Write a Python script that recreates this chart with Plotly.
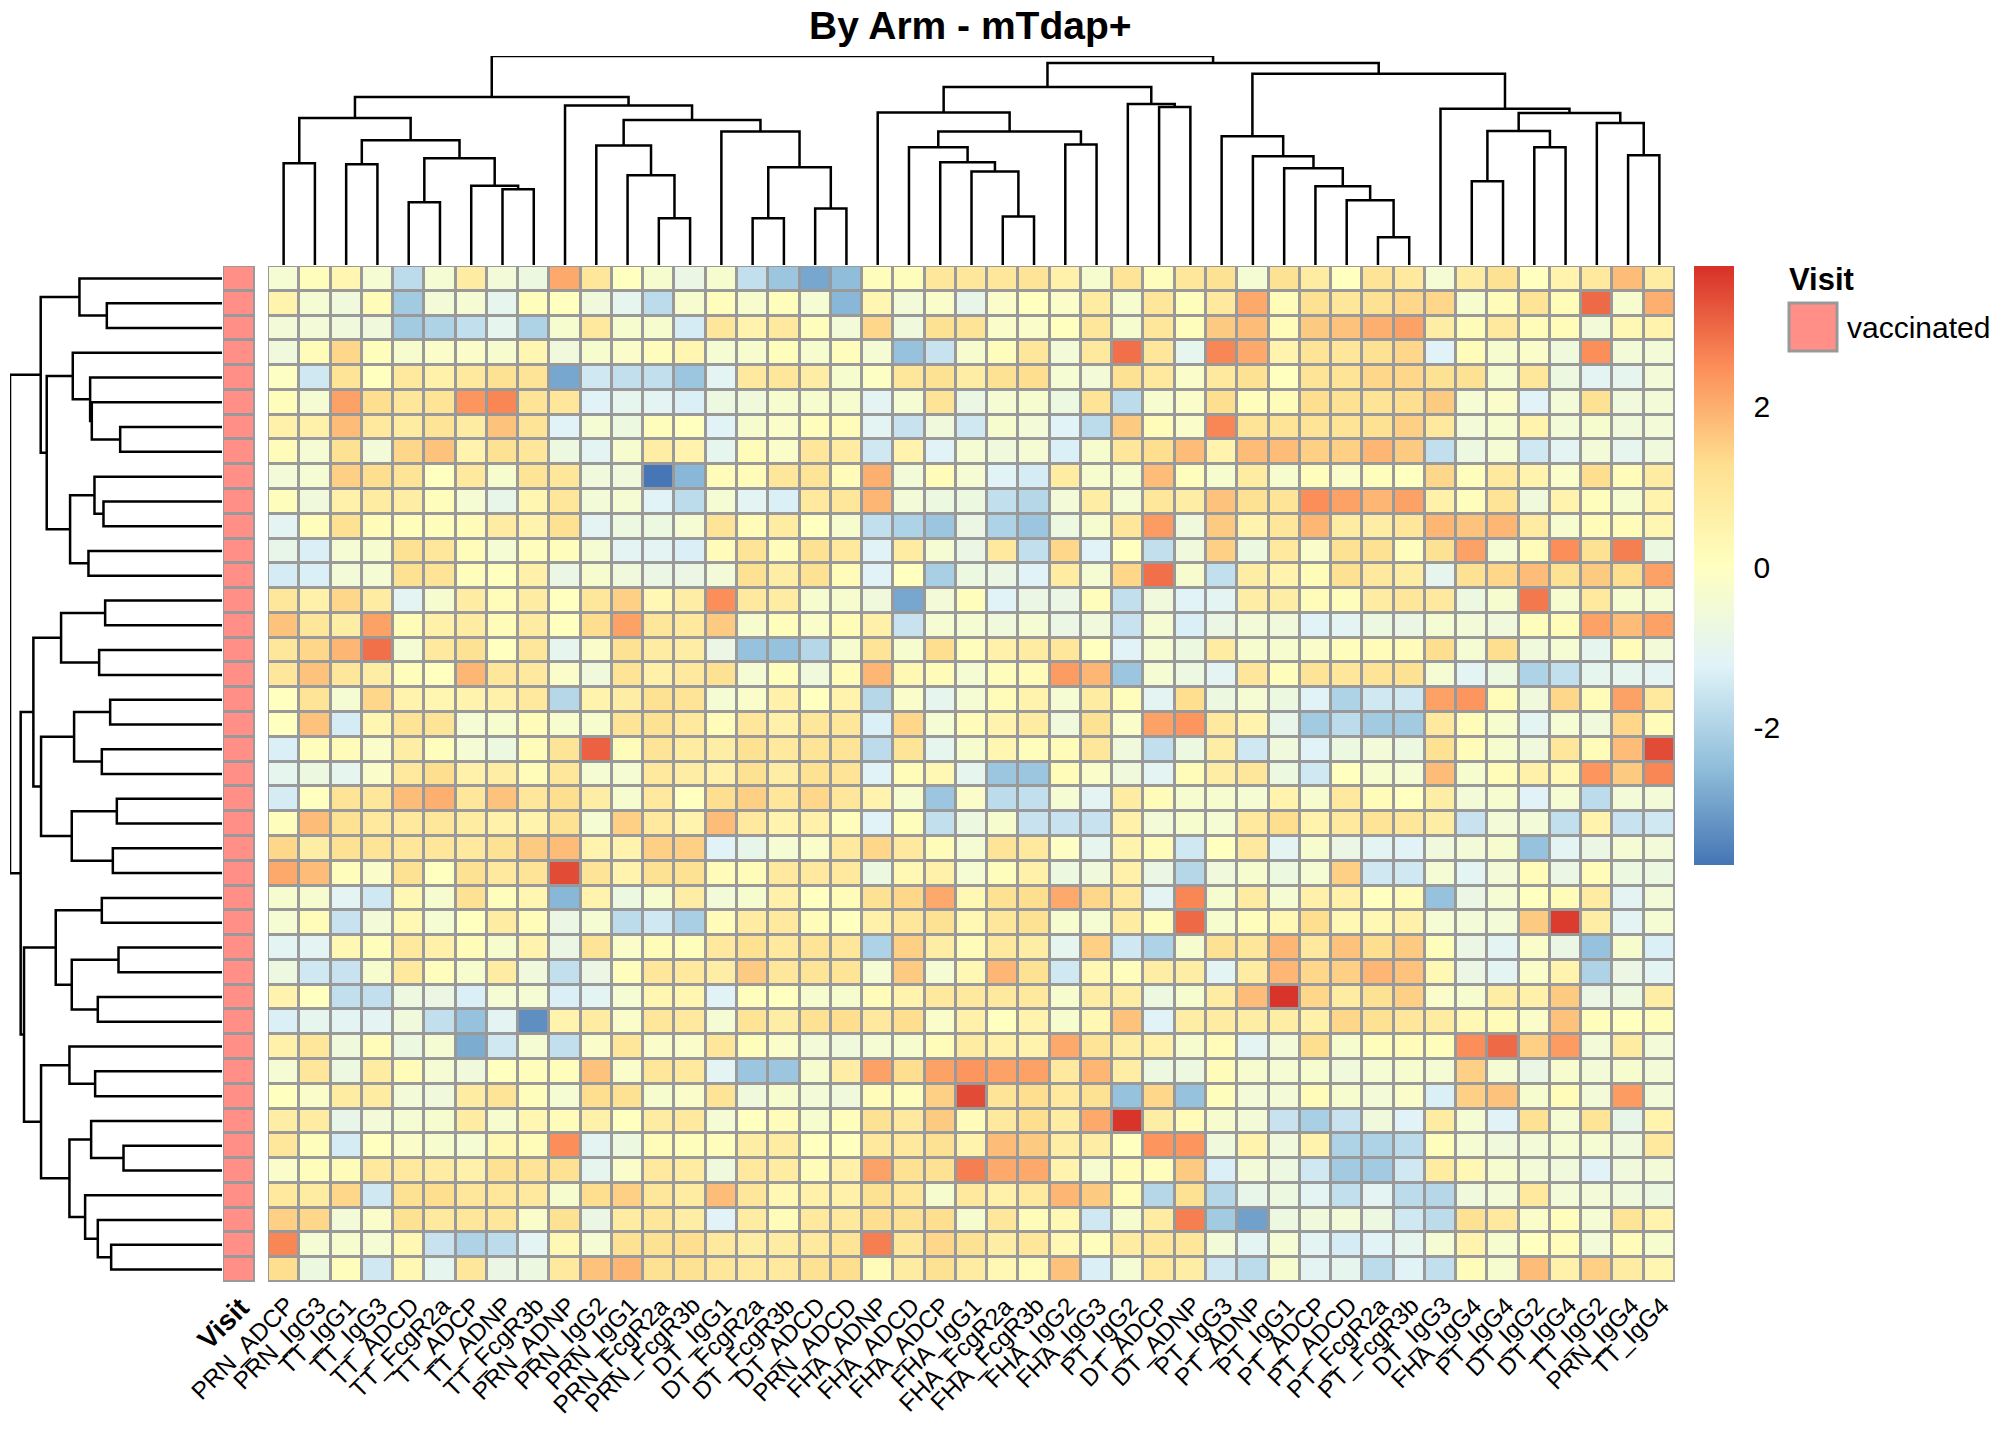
import plotly.graph_objects as go

W, H = 2016, 1440
FONT = "Liberation Sans, Arial, sans-serif"

col_labels = [
    "PRN_ADCP", "PRN_IgG3", "TT_IgG1", "TT_IgG3", "TT_ADCD", "TT_FcgR2a", "TT_ADCP",
    "TT_ADNP", "TT_FcgR3b", "PRN_ADNP", "PRN_IgG2", "PRN_IgG1", "PRN_FcgR2a",
    "PRN_FcgR3b", "DT_IgG1", "DT_FcgR2a", "DT_FcgR3b", "DT_ADCD", "PRN_ADCD",
    "FHA_ADNP", "FHA_ADCD", "FHA_ADCP", "FHA_IgG1", "FHA_FcgR2a", "FHA_FcgR3b",
    "FHA_IgG2", "FHA_IgG3", "PT_IgG2", "DT_ADCP", "DT_ADNP", "PT_IgG3", "PT_ADNP",
    "PT_IgG1", "PT_ADCP", "PT_ADCD", "PT_FcgR2a", "PT_FcgR3b", "DT_IgG3", "FHA_IgG4",
    "PT_IgG4", "DT_IgG2", "DT_IgG4", "TT_IgG2", "PRN_IgG4", "TT_IgG4",
]

# scaled values, one list per sample (rows in dendrogram order)
values = [
    [-0.4, 0.1, 0.4, -0.4, -1.8, -0.4, 0.8, -0.5, -0.7, 2.1, 1.0, 0.0, -0.3, -0.8, -0.3,
     -1.7, -2.3, -2.9, -2.5, 0.1, 0.1, 1.0, 1.0, 1.0, 1.1, 0.6, -0.3, 1.1, 0.1, 1.0,
     1.2, -0.4, 1.2, 0.8, 0.0, 1.1, 0.9, -0.4, 0.8, 1.2, 0.0, 0.5, 0.9, 1.8, 0.8],
    [0.5, -0.4, -0.6, 0.2, -2.2, -0.5, -0.4, -1.0, 0.1, 0.0, -0.6, -1.0, -1.8, -0.3, 0.1,
     -0.3, 0.1, -0.4, -2.6, 0.4, -0.5, -0.2, -0.9, -0.2, 0.0, -0.2, 0.8, -0.3, 1.0, 0.1,
     0.9, 2.1, 0.2, 1.2, 1.0, 1.2, 1.4, 1.4, -0.3, 0.2, 1.1, 0.2, 3.0, -0.3, 2.0],
    [-0.5, -0.5, -0.6, -0.6, -2.2, -2.0, -1.7, -1.0, -2.0, -0.3, 0.9, -0.3, -0.3, -1.4, 1.0,
     0.5, 0.9, 0.1, -0.5, 1.4, -0.6, 1.2, 1.1, -0.2, -0.2, 0.0, 1.0, -0.3, 1.0, 0.1,
     1.6, 1.8, 0.2, 1.6, 1.7, 2.0, 2.2, 0.7, 0.2, 0.9, 0.2, 0.2, -0.5, 0.3, 0.5],
    [-0.6, 0.2, 1.4, 0.1, -0.3, -0.2, -0.2, -0.3, 0.4, -0.6, -0.3, -0.2, 0.1, 0.4, -0.4,
     -0.3, 0.1, -0.3, 0.1, -0.4, -2.4, -1.6, -0.3, 0.1, 1.0, -0.5, 0.9, 2.9, 1.0, -1.0,
     2.6, 2.1, 0.5, 1.1, 1.0, 1.2, 1.4, -1.2, 0.2, -0.3, -0.2, -0.6, 2.5, -0.5, -0.5],
    [-0.1, -1.5, 1.1, 0.0, 0.9, 0.6, 0.9, 1.2, 1.1, -2.9, -1.5, -1.7, -1.7, -2.3, -1.1,
     0.9, 1.0, 0.7, -0.3, -0.1, 1.0, 1.2, 0.7, 1.2, 1.3, -0.4, -0.5, 1.2, 0.9, -0.2,
     0.9, 1.2, 0.0, 1.1, 1.1, 1.4, 1.4, 1.2, 1.2, -0.3, 1.0, -0.7, -1.1, -1.0, -0.5],
    [0.1, -0.4, 2.2, 1.3, 1.0, 1.1, 2.4, 2.6, 1.1, 1.0, -1.2, -1.0, -1.1, -1.3, -0.7,
     -0.6, -0.3, -0.3, -0.3, -1.1, -0.4, 1.1, -0.8, -0.4, -0.3, -0.7, 1.1, -1.8, -0.3, -0.2,
     1.3, 0.1, 0.2, 1.3, 1.2, 1.1, 1.3, 1.6, -0.4, -0.2, -1.2, -0.5, 1.2, -0.6, -0.5],
    [0.6, 0.6, 1.8, 0.9, 0.8, 1.1, 0.8, 1.7, 1.1, -1.2, -0.4, -0.7, 0.1, 0.0, -1.2,
     -0.3, -0.2, 0.1, 0.2, -1.1, -1.6, -0.6, -1.5, -0.3, -0.5, -1.2, -1.8, 1.6, 0.2, -0.2,
     2.6, 1.1, 1.1, 1.1, 1.1, 1.2, 1.5, 0.9, -0.5, -0.3, 0.5, -0.5, -0.3, -0.6, -0.5],
    [0.2, -0.4, 1.2, -0.5, 1.4, 1.7, 0.5, 1.2, 1.0, -0.7, -1.1, -0.3, 0.7, 0.5, -1.0,
     0.2, -0.2, 1.0, 0.8, -1.5, 0.5, -1.2, -0.4, -0.6, -0.4, -1.3, -0.3, 1.0, 1.3, 1.8,
     0.5, 1.8, 1.8, 1.5, 1.5, 1.9, 1.6, -1.7, -0.7, -0.4, -1.5, -1.1, -0.5, -1.0, -0.6],
    [-0.5, -0.4, 1.5, 1.3, 1.1, 0.0, 0.9, -0.3, 1.1, 1.0, -0.6, -0.6, -3.7, -2.6, 0.2,
     0.2, 1.0, 1.1, 0.2, 2.0, -0.5, 0.2, -0.4, -1.2, -1.4, 0.8, -0.3, -0.3, 1.8, 0.1,
     -0.3, 0.8, -0.3, 0.1, -0.2, 0.1, 0.0, 1.4, 0.1, 0.9, 0.5, -0.2, 1.3, 0.2, 0.8],
    [0.1, -0.6, 0.6, 0.8, 0.7, 0.1, -0.4, -0.9, 0.4, 1.0, -0.5, -0.4, -1.2, -1.8, -0.4,
     -1.1, -1.3, 0.9, 1.0, 1.9, -0.5, -0.7, -0.7, -1.7, -1.9, -0.5, 0.7, -0.4, 1.0, 0.7,
     1.7, 1.2, 1.1, 2.5, 2.2, 1.9, 2.2, 0.6, 0.1, 1.1, -0.6, 0.5, 0.1, -0.3, 0.5],
    [-1.1, 0.1, 1.2, 0.2, 0.1, 0.1, 0.2, 0.8, 0.5, 1.2, -1.1, -0.7, -0.7, -0.4, 1.1,
     0.2, 0.8, 0.0, -0.3, -1.7, -2.0, -2.3, -0.8, -2.0, -2.3, -0.7, -0.3, 1.0, 2.3, -0.6,
     1.6, 0.5, 1.0, 1.9, 0.8, 0.7, 1.0, 1.9, 1.7, 1.9, 0.8, -0.3, 0.2, 0.2, 0.4],
    [-0.9, -1.3, -0.4, -0.3, 1.2, 1.0, 0.2, -0.4, 0.1, 0.1, -0.4, -1.1, -1.1, -1.3, 0.2,
     1.1, 0.2, 1.2, 0.9, -1.2, 0.8, -0.4, -0.8, 0.9, -1.7, 1.4, -1.2, 0.0, -1.7, -0.6,
     1.5, -0.7, 0.9, -0.2, 1.2, 1.2, 0.1, 1.2, 2.2, -0.4, 0.2, 2.5, 1.2, 2.7, -0.7],
    [-1.4, -1.3, -0.5, -0.4, 1.2, 1.1, 0.1, 0.0, 0.6, -0.8, -0.3, -0.6, -0.8, -0.8, -0.5,
     1.2, 0.7, 1.2, 0.2, -1.2, 0.0, -2.1, -0.7, -0.8, -1.2, 0.8, -0.4, 1.4, 2.9, -0.3,
     -1.7, 0.7, 0.5, 0.2, 1.2, 0.9, 0.7, -1.0, 1.2, 1.4, 1.8, 1.2, 1.6, 1.3, 2.2],
    [1.0, 0.6, 1.4, 0.8, -1.1, -0.3, 0.8, 0.2, 0.8, 0.0, 1.0, 1.5, 0.3, 0.7, 2.5,
     0.9, 0.8, -0.3, -0.3, -0.6, -2.9, -0.5, 0.1, -1.2, -0.8, -0.8, 0.1, -1.7, -0.6, -1.2,
     -1.1, 0.7, 0.7, 0.2, 0.1, 0.8, 1.0, 0.9, -0.7, -0.3, 2.8, -0.3, 0.9, -0.3, -0.4],
    [1.7, 1.0, 0.7, 2.2, 0.2, 0.6, 0.8, 0.2, 0.8, 0.0, 1.3, 2.2, 1.0, 0.9, 1.6,
     -0.3, 0.1, -0.2, 0.2, 0.6, -1.6, -0.4, -0.4, -0.6, -0.4, -0.8, -0.6, -1.6, -0.4, -1.3,
     -0.8, -0.5, -0.6, -1.2, -1.1, -0.7, -0.8, -0.4, -0.5, -0.6, 0.1, 0.2, 2.2, 1.8, 2.2],
    [1.0, 1.4, 1.9, 2.9, -0.4, 0.9, 1.2, 0.0, 1.0, -1.0, -0.2, 1.2, 0.8, 0.7, -0.8,
     -2.4, -2.4, -1.9, -0.3, 1.1, -0.3, 1.3, 0.1, 0.6, 0.8, 1.0, 0.0, -1.2, -0.4, -0.7,
     0.8, -0.3, -0.3, -0.2, 0.1, 0.2, 0.2, 1.3, -0.4, 1.3, -0.6, -0.4, -1.0, 0.2, -0.5],
    [1.0, 1.7, 1.0, 0.7, 0.1, 0.0, 1.9, 1.0, 0.9, -0.2, -0.6, 1.1, 0.6, 0.9, 1.2,
     -0.4, 0.1, -0.6, 0.2, 1.9, 0.3, 0.2, -0.4, 0.1, 0.2, 2.3, 1.9, -2.3, -0.4, -0.7,
     -1.1, 1.0, 0.1, 1.1, 1.0, 1.1, 1.2, -0.4, -1.1, -0.7, -2.0, -1.7, -1.0, -1.0, -1.1],
    [0.0, 1.1, -0.4, 1.4, 0.5, 0.4, 0.5, 0.6, 0.9, -1.9, 0.5, 0.7, 1.2, 1.1, -0.4,
     -0.2, 0.6, 0.0, 0.5, -1.9, -0.2, -1.0, -0.4, 0.2, 0.5, -0.4, 0.8, 0.1, -1.1, 1.3,
     -0.7, -0.4, -0.7, -1.2, -2.0, -1.5, -1.5, 2.2, 2.4, 0.2, -0.6, 1.4, 0.2, 2.2, 0.9],
    [0.0, 1.7, -1.4, 0.4, 1.1, 1.1, -0.4, -0.3, 0.2, -0.3, -0.3, 1.1, 1.2, 0.9, 0.2,
     1.0, 0.6, 1.0, 1.0, -1.3, 1.4, -0.4, 0.2, 0.5, 0.8, -0.6, 1.2, -0.2, 2.2, 2.4,
     0.9, 0.5, -0.9, -2.2, -1.8, -2.2, -2.2, 0.9, 0.2, -0.3, -1.1, -0.4, -0.6, 1.4, 0.2],
    [-1.3, 0.1, 0.2, -0.2, 0.7, 0.1, -0.4, -0.7, 0.2, 1.1, 3.1, 0.2, 1.1, 0.8, 0.7,
     1.2, 0.9, 1.1, 1.1, -1.8, 1.1, -1.0, -0.3, 0.4, 0.1, 0.2, 1.0, -0.6, -1.7, -0.7,
     0.7, -1.5, -0.6, -1.2, -0.7, -0.5, -0.7, 1.2, 0.2, -0.3, -0.6, 1.0, 0.2, 1.8, 3.4],
    [-1.0, -0.7, -1.0, -0.2, 0.9, 1.3, 0.6, 0.7, 0.2, 1.0, -0.4, -0.4, 0.9, 0.7, 0.6,
     1.2, 0.7, 1.2, 1.1, -1.2, 0.2, 0.3, -1.0, -2.3, -2.3, 0.2, -0.2, -0.6, -1.1, 0.2,
     0.7, 1.0, -0.7, -1.5, 0.0, -0.3, -0.4, 1.8, -0.3, 0.2, 0.6, 0.3, 2.4, 1.6, 2.6],
    [-1.4, 0.0, 1.1, 1.0, 1.8, 2.0, 1.0, 1.7, 1.0, 1.3, 0.7, -0.3, 0.9, 0.0, 1.3,
     1.5, 1.0, 1.4, 1.0, 0.5, -0.3, -2.3, -0.2, -1.8, -1.7, -0.4, -1.1, 0.8, 0.2, -0.3,
     -0.3, -0.4, 0.5, -0.3, 0.9, 0.2, 0.0, 0.7, -0.5, -0.3, -1.2, -0.4, -1.8, -0.5, -0.5],
    [0.1, 1.8, 1.2, 0.9, 0.9, 1.0, 0.8, 0.6, 0.5, 1.2, -0.4, 1.5, 0.9, 0.5, 1.8,
     0.9, 0.5, 0.6, 0.1, -1.2, 0.1, -1.7, -0.7, -0.3, -1.6, -1.6, -1.6, 0.6, -0.5, -0.3,
     -0.4, 0.9, 1.3, 0.5, 0.9, 1.1, 1.0, 0.7, -1.6, -0.5, -0.5, -1.7, 0.5, -1.6, -1.5],
    [1.4, 0.7, 1.2, 1.1, 1.0, 1.0, 0.9, 1.2, 1.6, 1.8, 0.5, 0.5, 1.5, 1.5, -1.2,
     -0.9, -0.4, -0.2, 0.9, 1.4, 0.9, 0.2, -0.4, 1.1, 0.9, -0.1, -1.0, 0.5, 0.2, -1.5,
     0.0, 0.9, -1.1, -0.3, -0.8, -1.1, -1.2, -0.6, -0.5, -0.3, -2.4, -1.1, -0.8, -0.4, -0.5],
    [2.1, 1.8, 0.1, -0.2, 1.2, 0.0, 1.2, 0.9, 1.1, 3.4, 1.1, 0.5, 1.2, 1.2, 0.2,
     0.2, 0.9, 0.9, 0.9, -0.7, 0.3, 0.6, -0.4, 0.1, 0.6, -0.7, -0.6, 0.6, -0.8, -1.9,
     -0.6, -0.3, -0.7, -0.4, 1.5, -1.5, -1.5, -0.4, -1.1, -0.5, 0.2, -0.8, 0.2, -0.7, -0.7],
    [-0.3, -0.3, -1.1, -1.5, 0.3, -0.3, 1.2, 0.1, 0.4, -2.6, 0.5, -0.7, -0.3, 0.7, -0.5,
     -0.3, 0.6, 0.0, 0.2, 1.2, 1.4, 2.1, 0.3, 1.2, 1.3, 2.1, 1.4, 0.9, -1.1, 2.6,
     -0.3, 0.8, -0.4, 0.6, 0.6, 0.0, 0.2, -2.4, -0.8, -0.4, 0.0, 0.2, 0.8, -1.1, -0.5],
    [-0.4, 0.2, -1.6, -0.5, 0.3, -0.4, 0.0, 0.8, 0.2, -0.8, -0.4, -1.8, -1.5, -2.1, 0.2,
     0.8, 0.9, 0.2, 0.0, 0.6, 1.0, 1.2, 0.3, 1.0, 1.2, -0.3, -0.4, 0.8, 0.1, 3.0,
     -0.3, 0.1, 0.3, 1.3, 0.3, 0.3, 0.6, -0.4, -0.5, -0.5, 1.6, 3.6, 0.7, -1.1, -0.4],
    [-1.1, -1.1, 0.3, 0.1, 0.9, 0.6, 0.2, -0.3, 0.5, -0.8, 1.1, -0.2, 0.2, 0.1, 0.9,
     1.2, 0.9, 1.1, 1.0, -2.0, 1.5, 0.7, 0.2, 0.9, 0.7, -1.0, 1.5, -1.5, -2.0, -0.3,
     1.2, 1.0, 1.9, 0.9, 1.7, 1.3, 1.6, 0.1, -0.8, -1.1, -0.2, -0.8, -2.4, -0.3, -1.3],
    [-0.7, -1.5, -1.6, -0.3, 0.9, 0.1, -0.3, 0.8, -0.6, -1.7, -0.8, 0.1, 1.0, 0.9, 0.7,
     1.6, 1.0, 1.1, 1.1, -0.4, 1.6, -0.4, 0.3, 1.9, 1.2, -1.5, 0.3, 0.1, 0.7, 0.7,
     -1.1, 0.8, 1.9, 1.4, 1.5, 1.9, 1.7, 0.3, -0.8, -1.1, -0.2, 0.5, -2.0, -0.8, -1.1],
    [0.5, 0.0, -1.7, -1.7, -0.7, -0.8, -1.3, -0.4, -0.4, -1.3, -1.1, -0.4, 0.4, 0.4, -1.2,
     0.1, 0.0, -0.3, -0.3, 0.2, 0.5, 0.9, 0.9, 0.9, 0.9, -0.3, 0.7, 0.7, -0.7, -0.3,
     0.8, 1.8, 3.7, 1.4, 0.8, 1.2, 1.5, -0.2, -0.3, 0.7, 0.6, 1.6, -0.8, -0.7, 0.7],
    [-1.3, -1.0, -1.1, -1.1, -0.6, -1.7, -2.4, -1.1, -3.3, 0.5, 0.8, -0.2, 1.0, 0.9, -0.4,
     1.1, 0.7, 1.2, 1.3, 0.9, 1.3, -0.2, 0.6, 0.0, 0.5, -0.3, 0.3, 1.7, -1.2, 0.7,
     0.8, 0.7, 0.7, 0.6, 1.4, 1.2, 1.0, 0.8, 0.3, 0.2, -0.2, 1.7, 0.1, 0.0, 0.1],
    [0.6, 1.0, -0.6, 0.2, -0.7, -0.4, -2.8, -1.5, -0.4, -1.7, -0.2, 1.0, -0.2, -0.2, 1.0,
     0.1, -0.2, -0.5, -0.6, -0.4, -0.3, 0.2, 0.8, 0.6, 0.5, 2.1, 1.1, 0.7, 0.6, -0.3,
     0.2, -1.1, -0.5, 1.3, -0.3, 0.1, 0.2, 0.1, 2.5, 3.0, 1.5, 2.3, -0.5, 0.8, -0.5],
    [-0.4, 1.0, -0.7, 0.8, 0.2, -0.4, -0.6, 0.0, 0.1, 0.1, 1.7, -0.2, 1.0, 0.9, -1.1,
     -2.3, -2.3, -0.3, 0.7, 2.2, 1.3, 2.2, 2.4, 2.2, 2.2, 0.9, 1.9, 0.7, -0.7, -0.7,
     0.2, -0.3, -0.4, -0.3, -0.6, -0.4, -0.3, -0.4, 1.5, -0.4, -0.8, -0.3, -0.5, -0.3, -0.5],
    [0.0, -0.2, 0.8, 0.8, -0.5, -0.6, 0.8, 1.1, 0.1, -0.4, 1.3, 1.2, -0.3, -0.2, 1.1,
     -0.6, -0.3, -0.5, -0.6, 0.2, 0.1, 1.5, 3.4, 1.1, 1.3, 0.9, 1.2, -2.4, 1.4, -2.4,
     0.1, -0.5, -0.5, 0.2, -0.3, -0.5, -0.2, -1.3, 1.5, 1.7, -0.3, 0.2, -0.5, 2.3, -0.5],
    [0.7, 0.8, -0.9, -0.5, -0.4, -0.3, 0.8, -0.3, 0.4, 0.2, 0.6, 0.0, 0.8, 0.9, -0.4,
     0.0, 0.2, -0.3, 0.1, 1.2, 0.9, 1.6, 0.2, 0.9, 1.3, 0.8, 2.1, 3.7, 0.7, 0.2,
     -0.3, -0.5, -1.6, -2.1, -1.6, -0.6, -1.2, 0.8, -0.4, -1.2, 1.2, -0.4, 1.1, -0.9, 0.5],
    [1.0, 0.1, -1.4, 0.0, -0.2, -0.3, -0.4, 0.3, 0.2, 2.5, -1.1, -0.7, 0.2, 0.1, 0.1,
     0.7, 0.8, 0.0, 0.0, 0.9, 0.9, 1.2, 0.5, 1.8, 1.6, 0.7, 0.7, 0.0, 2.4, 2.4,
     -0.6, 0.5, -0.6, 0.5, -2.0, -2.0, -1.8, 0.1, -0.4, -0.6, -0.5, -0.4, -0.4, -0.6, 0.9],
    [-0.2, 0.1, 0.2, 0.9, 0.9, 0.8, 0.6, 1.2, 1.1, 1.2, -1.0, -0.2, 0.9, 0.8, -0.6,
     0.9, 0.8, 0.2, 0.6, 2.2, 1.2, 1.2, 2.7, 2.1, 2.1, 0.5, -0.3, 0.2, 0.1, 1.6,
     -1.3, -0.5, -0.7, -1.5, -2.2, -2.2, -1.5, 0.8, 0.3, -0.3, -0.5, -0.6, -1.2, -0.6, -0.5],
    [0.9, 0.8, 1.4, -1.5, 1.2, 1.3, 1.0, 1.0, 0.9, -0.3, 1.3, 1.5, 1.0, 0.8, 1.8,
     1.0, 0.3, 0.6, 0.6, 1.2, 1.0, -0.3, 0.9, 0.6, 0.9, 1.9, 1.6, 0.2, -1.9, 1.2,
     -1.9, -0.9, -0.7, -1.1, -1.7, -1.1, -1.8, -1.9, -0.6, -0.5, 0.9, -0.5, -0.5, -0.6, -0.7],
    [1.5, 1.4, -0.5, -0.2, 1.2, 0.9, 1.0, 1.0, -0.2, 1.2, -0.8, 0.8, 1.0, 0.7, -1.2,
     0.8, 0.2, 0.9, 0.9, 1.3, 1.2, 1.3, -0.3, 1.0, 0.2, 0.3, -1.5, -0.3, 0.8, 2.7,
     -2.2, -3.0, -0.7, -0.6, -0.5, -0.7, -1.5, -1.8, 1.2, 0.9, -0.2, 0.1, -0.4, 1.1, 0.5],
    [2.6, -0.4, -0.3, -0.4, 0.3, -1.6, -2.0, -1.8, -1.1, 0.3, -0.4, 1.2, 1.2, 1.3, 0.9,
     0.7, 0.8, 0.9, 1.1, 2.7, 1.0, 1.4, 1.2, 0.7, 1.0, 0.3, 0.1, 0.8, 1.0, 1.0,
     -0.5, -1.1, -0.4, -1.1, -1.4, -1.2, -1.0, -0.4, 0.5, -0.3, 0.0, 0.2, -0.5, 0.2, -0.3],
    [1.3, -0.7, 0.1, -1.5, 0.3, -1.0, 1.0, -0.8, -0.7, 0.9, 1.7, 1.9, 1.2, 1.2, 1.0,
     0.9, 0.9, 1.2, 1.3, 0.2, 0.8, 1.2, 0.8, 0.3, 0.2, 1.7, -1.3, -0.4, 0.9, 0.7,
     -1.5, -1.8, -0.3, -1.1, -1.0, -1.8, -1.2, -1.7, 0.2, -0.3, 1.8, 0.6, 1.5, 0.8, 0.4],
]

visit = ["vaccinated"] * len(values)

# column tree: (left, right, height); ints are leaves, "mK" is the K-th merge
col_merges = [
    (0, 1, 305), (2, 3, 302), (4, 5, 188), (7, 8, 227), (6, "m3", 237),
    ("m2", "m4", 320), ("m1", "m5", 374), ("m0", "m6", 440), (12, 13, 140),
    (11, "m8", 269), (10, "m9", 358), (15, 16, 140), (17, 18, 169),
    ("m11", "m12", 293), (14, "m13", 400), ("m10", "m14", 434), (9, "m15", 478),
    ("m7", "m16", 503), (23, 24, 145), (22, "m18", 280), (21, "m19", 308),
    (20, "m20", 353), (25, 26, 361), ("m21", "m22", 400), (19, "m23", 457),
    (28, 29, 473), (27, "m25", 482), ("m24", "m26", 533), (35, 36, 83),
    (34, "m28", 194), (33, "m29", 236), (32, "m30", 290), (31, "m31", 326),
    (30, "m32", 386), (38, 39, 251), (40, 41, 353), ("m34", "m35", 401),
    (43, 44, 329), (42, "m37", 425), ("m36", "m38", 455), (37, "m39", 468),
    ("m33", "m40", 573), ("m27", "m41", 605), ("m17", "m42", 626),
]

row_merges = [
    (1, 2, 345), (0, "m0", 427), (6, 7, 305), (5, "m2", 390), (4, "m3", 395),
    (3, "m4", 447), (9, 10, 355), (8, "m6", 382), (11, 12, 400), ("m7", "m8", 455),
    ("m5", "m9", 525), ("m1", "m10", 543), (13, 14, 350), (15, 16, 368),
    ("m12", "m13", 482), (17, 18, 335), (19, 20, 360), ("m15", "m16", 443),
    (21, 22, 315), (23, 24, 327), ("m18", "m19", 450), ("m17", "m20", 542),
    ("m14", "m21", 565), (25, 26, 360), (27, 28, 310), (29, 30, 372),
    ("m24", "m25", 450), ("m23", "m26", 498), (32, 33, 380), (31, "m28", 457),
    (35, 36, 295), (34, "m30", 392), (39, 40, 332), (38, "m32", 372),
    (37, "m33", 410), ("m31", "m34", 457), ("m29", "m35", 542), ("m27", "m36", 593),
    ("m22", "m37", 603), ("m11", "m38", 635),
]

n_rows, n_cols = len(values), len(col_labels)


def px_x(p):
    return p / W


def px_y(p):
    return 1 - p / H


def dendro_lines(merges, n):
    pos = {i: float(i) for i in range(n)}
    hgt = {i: 0.0 for i in range(n)}
    xs, ys = [], []
    for k, (a, b, h) in enumerate(merges):
        xs += [pos[a], pos[a], pos[b], pos[b], None]
        ys += [hgt[a], h, h, hgt[b], None]
        pos["m%d" % k] = (pos[a] + pos[b]) / 2
        hgt["m%d" % k] = h
    return xs, ys


# pheatmap default palette
rdylbu = ["#4575B4", "#91BFDB", "#E0F3F8", "#FFFFBF", "#FEE090", "#FC8D59", "#D73027"]
colorscale = [[i / 6, c] for i, c in enumerate(rdylbu)]
GRID = "#999999"
SALMON = "#FF8F87"

# pixel boxes of the panels
hm_x = [268, 1675]
hm_y = [266, 1282]
top_y = [56, 265]
left_x = [10, 222]
ann_x = [223, 255]

fig = go.Figure()

fig.add_trace(go.Heatmap(
    z=values, x=list(range(n_cols)), y=list(range(n_rows)),
    colorscale=colorscale, zmin=-3.72, zmax=3.76, xgap=3, ygap=3,
    hoverinfo="skip",
    colorbar=dict(
        x=px_x(1694), xanchor="left", y=px_y((266 + 865) / 2), yanchor="middle",
        len=599, lenmode="pixels", thickness=40, thicknessmode="pixels",
        xpad=0, ypad=0, outlinewidth=0,
        tickvals=[-2, 0, 2], ticktext=["-2", "0", "2"],
        ticks="outside", ticklen=14, tickcolor="rgba(0,0,0,0)",
        tickfont=dict(family=FONT, size=30, color="black"),
    ),
))

cx, cy = dendro_lines(col_merges, n_cols)
fig.add_trace(go.Scatter(x=cx, y=cy, mode="lines", line=dict(color="black", width=2.5),
                         xaxis="x2", yaxis="y2", hoverinfo="skip"))

rp, rh = dendro_lines(row_merges, n_rows)
fig.add_trace(go.Scatter(x=rh, y=rp, mode="lines", line=dict(color="black", width=2.5),
                         xaxis="x3", yaxis="y3", hoverinfo="skip"))

fig.add_trace(go.Heatmap(
    z=[[1] for _ in visit], x=[0], y=list(range(n_rows)),
    colorscale=[[0, SALMON], [1, SALMON]], showscale=False, xgap=3, ygap=3,
    xaxis="x4", yaxis="y4", hoverinfo="skip",
))

hidden = dict(visible=False, showgrid=False, zeroline=False)
fig.update_layout(
    width=W, height=H, margin=dict(l=0, r=0, t=0, b=0),
    paper_bgcolor="white", plot_bgcolor="white", showlegend=False,
    font=dict(family=FONT, color="black"),
    xaxis=dict(domain=[px_x(hm_x[0]), px_x(hm_x[1])], range=[-0.5, n_cols - 0.5], **hidden),
    yaxis=dict(domain=[px_y(hm_y[1]), px_y(hm_y[0])], range=[n_rows - 0.5, -0.5], **hidden),
    xaxis2=dict(domain=[px_x(hm_x[0]), px_x(hm_x[1])], range=[-0.5, n_cols - 0.5], **hidden),
    yaxis2=dict(domain=[px_y(top_y[1]), px_y(top_y[0])], range=[0, 626], **hidden),
    xaxis3=dict(domain=[px_x(left_x[0]), px_x(left_x[1])], range=[635, 0], **hidden),
    yaxis3=dict(domain=[px_y(hm_y[1]), px_y(hm_y[0])], range=[n_rows - 0.5, -0.5], **hidden),
    xaxis4=dict(domain=[px_x(ann_x[0]), px_x(ann_x[1])], range=[-0.5, 0.5], **hidden),
    yaxis4=dict(domain=[px_y(hm_y[1]), px_y(hm_y[0])], range=[n_rows - 0.5, -0.5], **hidden),
)

# grey cell borders
fig.add_shape(type="rect", xref="x", yref="y", x0=-0.5, x1=n_cols - 0.5, y0=-0.5,
              y1=n_rows - 0.5, fillcolor=GRID, line=dict(color=GRID, width=3), layer="below")
fig.add_shape(type="rect", xref="x4", yref="y4", x0=-0.5, x1=0.5, y0=-0.5,
              y1=n_rows - 0.5, fillcolor=GRID, line=dict(color=GRID, width=3), layer="below")

# column labels, rotated 45 degrees
for i, lab in enumerate(col_labels):
    fig.add_annotation(x=i, xref="x", y=px_y(1289), yref="paper", text=lab,
                       textangle=-45, xanchor="right", yanchor="top", xshift=18,
                       showarrow=False, font=dict(size=24.5, family=FONT, color="black"))
fig.add_annotation(x=0, xref="x4", y=px_y(1289), yref="paper", text="<b>Visit</b>",
                   textangle=-45, xanchor="right", yanchor="top", xshift=19,
                   showarrow=False, font=dict(size=28, family=FONT, color="black"))

# title
fig.add_annotation(x=px_x(970), y=px_y(25), xref="paper", yref="paper",
                   text="<b>By Arm - mTdap+</b>", showarrow=False, yanchor="middle",
                   font=dict(size=39, family=FONT, color="black"))

# Visit legend
fig.add_annotation(x=px_x(1787), y=px_y(280), xref="paper", yref="paper",
                   text="<b>Visit</b>", showarrow=False, xanchor="left", yanchor="middle",
                   font=dict(size=31, family=FONT, color="black"))
fig.add_shape(type="rect", xref="paper", yref="paper", x0=px_x(1789), x1=px_x(1837),
              y0=px_y(351), y1=px_y(303), fillcolor=SALMON, line=dict(color=GRID, width=3))
fig.add_annotation(x=px_x(1845), y=px_y(328), xref="paper", yref="paper",
                   text=visit[0], showarrow=False, xanchor="left", yanchor="middle",
                   font=dict(size=30, family=FONT, color="black"))

fig.write_html("out.html", config={"displayModeBar": False},
               post_script="document.body.style.margin='0';")
